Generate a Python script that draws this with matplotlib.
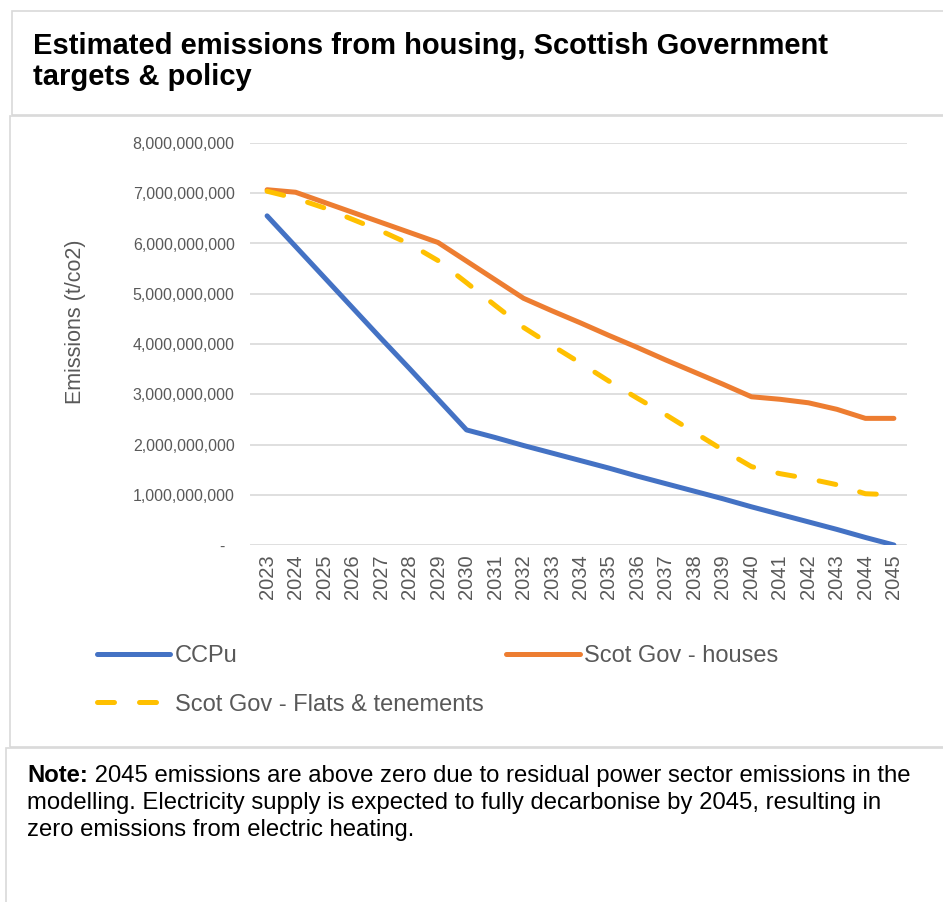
import matplotlib
matplotlib.use("Agg")
import matplotlib.pyplot as plt
from matplotlib.patches import Rectangle
from matplotlib.ticker import FuncFormatter, MultipleLocator

plt.rcParams['font.family'] = ['Liberation Sans', 'DejaVu Sans']

# ---- data ----
years = list(range(2023, 2046))
year_labels = [str(y) for y in years]
ccpu = [6.55, 5.94, 5.33, 4.72, 4.11, 3.51, 2.90, 2.29, 2.14, 1.98, 1.83,
        1.68, 1.53, 1.37, 1.22, 1.07, 0.92, 0.76, 0.61, 0.46, 0.31, 0.15, 0.0]
houses = [7.07, 7.02, 6.82, 6.62, 6.42, 6.22, 6.02, 5.65, 5.28, 4.91, 4.66,
          4.42, 4.17, 3.93, 3.68, 3.44, 3.20, 2.95, 2.90, 2.83, 2.70, 2.52, 2.52]
flats = [7.04, 6.90, 6.71, 6.48, 6.25, 5.99, 5.66, 5.22, 4.77, 4.33, 3.97,
         3.62, 3.26, 2.92, 2.59, 2.24, 1.89, 1.56, 1.42, 1.32, 1.20, 1.02, 1.00]
scale = 1e9
series_names = ["CCPu", "Scot Gov - houses", "Scot Gov - Flats & tenements"]
title = "Estimated emissions from housing, Scottish Government\ntargets & policy"
ylabel = "Emissions (t/co2)"

W, H = 943, 902
fig = plt.figure(figsize=(W / 100, H / 100), dpi=100)

def fx(x):
    return x / W

def fy(y):
    return 1 - y / H

GRID = '#d9d9d9'
TXT = '#595959'

# panel boxes
for (x0, y0, x1, y1) in [(12, 11, 960, 115), (10, 116, 960, 747), (6, 748, 960, 920)]:
    fig.add_artist(Rectangle((fx(x0), fy(y1)), fx(x1) - fx(x0), fy(y0) - fy(y1),
                             transform=fig.transFigure, fill=False,
                             edgecolor=GRID, linewidth=1.2, clip_on=False))

fig.text(fx(33), fy(85), title, fontsize=21, fontweight='bold', color='black',
         ha='left', va='baseline', linespacing=1.15)

ax = fig.add_axes([fx(250), fy(545), fx(907) - fx(250), fy(143) - fy(545)])
blue, orange, yellow = '#4472C4', '#ED7D31', '#FFC000'
lw = 3.6
ys = lambda s: [v * scale for v in s]
l1, = ax.plot(years, ys(ccpu), color=blue, lw=lw, solid_capstyle='round',
              solid_joinstyle='round', label=series_names[0])
l2, = ax.plot(years, ys(houses), color=orange, lw=lw, solid_capstyle='round',
              solid_joinstyle='round', label=series_names[1])
l3, = ax.plot(years, ys(flats), color=yellow, lw=lw, dash_capstyle='round',
              label=series_names[2])
l3.set_dashes((3.4, 5.0))

ax.set_xlim(2022.4, 2045.46)
ax.set_ylim(0, 8e9)
ax.yaxis.set_major_locator(MultipleLocator(1e9))
ax.yaxis.set_major_formatter(FuncFormatter(lambda v, p: '-  ' if v == 0 else f'{v:,.0f}'))
ax.set_xticks(years)
ax.set_xticklabels(year_labels, rotation=90)
ax.grid(axis='y', color=GRID, linewidth=1.2)
ax.set_axisbelow(True)
for s in ax.spines.values():
    s.set_visible(False)
ax.tick_params(axis='both', length=0)
ax.tick_params(axis='y', labelsize=11.5, labelcolor=TXT, pad=11)
ax.tick_params(axis='x', labelsize=14.5, labelcolor=TXT, pad=7)
ax.set_ylabel(ylabel, fontsize=15.5, color=TXT)
ax.yaxis.set_label_coords(-0.25, 0.555)

fig.legend(handles=[l1, l3, l2], loc='upper left', bbox_to_anchor=(fx(97), fy(645)),
           ncol=2, frameon=False, fontsize=17, labelcolor=TXT, borderaxespad=0,
           borderpad=0, handlelength=3.1, handletextpad=0.2, columnspacing=0.96,
           labelspacing=1.13)

# note
renderer = fig.canvas.get_renderer()
t1 = fig.text(fx(27), fy(782), "Note:", fontsize=17.2, fontweight='bold', color='black',
              ha='left', va='baseline')
bb = t1.get_window_extent(renderer)
fig.text(bb.x1 / W, fy(782),
         " 2045 emissions are above zero due to residual power sector emissions in the",
         fontsize=17.2, color='black', ha='left', va='baseline')
fig.text(fx(27), fy(809), "modelling. Electricity supply is expected to fully decarbonise by 2045, resulting in",
         fontsize=17.2, color='black', ha='left', va='baseline')
fig.text(fx(27), fy(836), "zero emissions from electric heating.",
         fontsize=17.2, color='black', ha='left', va='baseline')

fig.savefig('out.png', dpi=100)
